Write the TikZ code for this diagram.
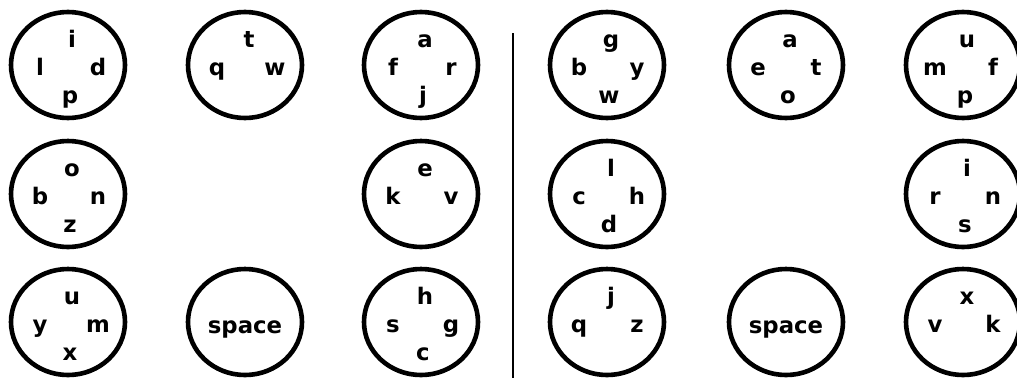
\documentclass[tikz,border=0pt]{standalone}
\usepackage{fontspec}
\setmainfont{DejaVu Sans}
\usetikzlibrary{shapes.geometric,positioning,calc}

\tikzset{
  keyring/.style={draw, ellipse, line width=2.3pt,
                  minimum width=57pt, minimum height=53pt, inner sep=0pt},
  glyph/.style={anchor=base, inner sep=0pt,
                font=\bfseries\fontsize{11.4}{13}\selectfont}
}

\begin{document}
\begin{tikzpicture}[x=0.5pt, y=-0.5pt]
  \useasboundingbox (0,0) rectangle (1017,381);

  % letter keys: name/x/y/top/left/right/bottom
  \foreach \n/\cx/\cy/\t/\l/\r/\b in {
      Ka/68/65/i/l/d/p, Kb/245/65/t/q/w/, Kc/421/65/a/f/r/j,
      Kd/68/194/o/b/n/z, Ke/421/194/e/k/v/,
      Kf/68/322/u/y/m/x, Kg/421/322/h/s/g/c,
      Kh/607/65/g/b/y/w, Ki/786/65/a/e/t/o, Kj/963/65/u/m/f/p,
      Kk/607/194/l/c/h/d, Kl/963/194/i/r/n/s,
      Km/607/322/j/q/z/, Kn/963/322/x/v/k/} {
    \node[keyring] (\n) at (\cx,\cy) {};
    \node[glyph] (\n-t) at ($(\n.center)+(4,-18)$) {\t};
    \node[glyph] (\n-l) at ($(\n.center)+(-28,10)$) {\l};
    \node[glyph] (\n-r) at ($(\n.center)+(30,10)$) {\r};
    \node[glyph] (\n-b) at ($(\n.center)+(2,38)$) {\b};
  }

  % space keys
  \foreach \n/\cx in {spaceL/245, spaceR/786} {
    \node[keyring] (\n) at (\cx,322) {};
    \node[glyph] (\n-txt) at ($(\n.center)+(0,11)$) {space};
  }

  % divider
  \coordinate (divtop) at (513,33);
  \coordinate (divbot) at (513,378);
  \draw[line width=1pt] (divtop) -- (divbot);
\end{tikzpicture}
\end{document}
